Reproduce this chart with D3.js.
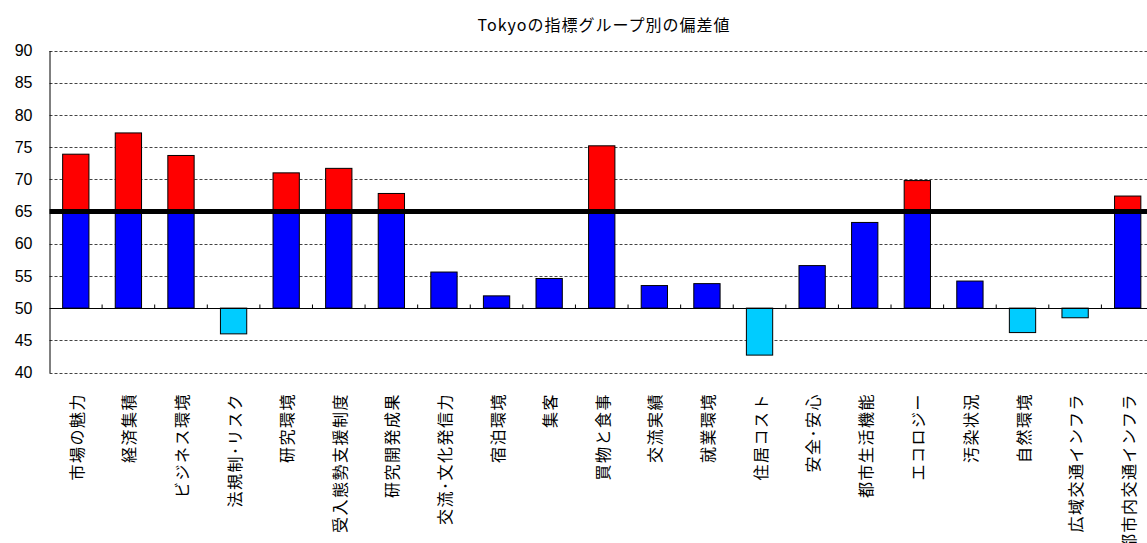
<!DOCTYPE html>
<html>
<head>
<meta charset="utf-8">
<script src="https://cdn.jsdelivr.net/npm/d3@7"></script>
<style>
  body { margin: 0; background: #fff; }
  svg { display: block; }
</style>
</head>
<body>
<div id="chart"></div>
<script>
// chart data
const title = "Tokyoの指標グループ別の偏差値";
const categories = ["市場の魅力", "経済集積", "ビジネス環境", "法規制･リスク", "研究環境", "受入態勢支援制度",
  "研究開発成果", "交流･文化発信力", "宿泊環境", "集客", "買物と食事", "交流実績", "就業環境", "住居コスト",
  "安全･安心", "都市生活機能", "エコロジー", "汚染状況", "自然環境", "広域交通インフラ", "都市内交通インフラ"];
const values = [73.9, 77.2, 73.7, 46.0, 71.0, 71.7, 67.8, 55.6, 51.9, 54.6, 75.2, 53.5, 53.8, 42.7,
  56.6, 63.3, 69.8, 54.2, 46.2, 48.5, 67.4];
const yTicks = [40, 45, 50, 55, 60, 65, 70, 75, 80, 85, 90];
const baseValue = 50;
const markValue = 65;

const width = 1147, height = 543;

const svg = d3.select("#chart").append("svg")
  .attr("width", width)
  .attr("height", height);

const x = d3.scaleBand()
  .domain(categories)
  .range([49.5, 1154])
  .paddingInner(0.5)
  .paddingOuter(0.25);

const y = d3.scaleLinear()
  .domain([40, 90])
  .range([372.5, 50.5]);

// title
svg.append("text")
  .attr("x", 604)
  .attr("y", 31)
  .attr("text-anchor", "middle")
  .style("font-family", "'Noto Sans CJK JP', sans-serif")
  .style("font-size", "16px")
  .style("letter-spacing", "1px")
  .text(title);

// dashed grid lines
svg.append("g").selectAll("line")
  .data(yTicks.filter(d => d !== baseValue && d !== markValue))
  .enter().append("line")
  .attr("x1", 49.5).attr("x2", width)
  .attr("y1", d => Math.round(y(d)) + 0.5)
  .attr("y2", d => Math.round(y(d)) + 0.5)
  .style("stroke", "#444")
  .style("stroke-width", 1)
  .style("stroke-dasharray", "3,2");

// y axis
const yAxis = svg.append("g")
  .attr("transform", "translate(49.5,0)")
  .call(d3.axisLeft(y).tickValues(yTicks).tickSize(0).tickPadding(17));
yAxis.select(".domain").style("stroke", "#000");
yAxis.selectAll("text")
  .style("font-family", "'Liberation Sans', Arial, sans-serif")
  .style("font-size", "16px")
  .style("fill", "#000");

// bars split into segments
const segments = [];
values.forEach((v, i) => {
  const c = categories[i];
  if (v >= baseValue) {
    segments.push({ c, lo: baseValue, hi: Math.min(v, markValue), color: "#0000FF" });
    if (v > markValue) segments.push({ c, lo: markValue, hi: v, color: "#FF0000" });
  } else {
    segments.push({ c, lo: v, hi: baseValue, color: "#00CCFF" });
  }
});

svg.append("g").selectAll("rect")
  .data(segments)
  .enter().append("rect")
  .attr("x", d => x(d.c))
  .attr("width", x.bandwidth())
  .attr("y", d => y(d.hi))
  .attr("height", d => y(d.lo) - y(d.hi))
  .style("fill", d => d.color)
  .style("stroke", "#000")
  .style("stroke-width", 1);

// category axis at 50
const y50 = Math.round(y(baseValue)) + 0.5;
svg.append("line")
  .attr("x1", 49.5).attr("x2", width)
  .attr("y1", y50).attr("y2", y50)
  .style("stroke", "#000");

svg.append("g").selectAll("line")
  .data(categories.slice(1))
  .enter().append("line")
  .attr("x1", d => x(d) - x.step() * x.paddingInner() / 2)
  .attr("x2", d => x(d) - x.step() * x.paddingInner() / 2)
  .attr("y1", y50).attr("y2", y50 - 4)
  .style("stroke", "#000");

// thick line at 65
svg.append("line")
  .attr("x1", 49.5).attr("x2", width)
  .attr("y1", y(markValue)).attr("y2", y(markValue))
  .style("stroke", "#000")
  .style("stroke-width", 5);

// rotated category labels
svg.append("g").selectAll("text")
  .data(categories)
  .enter().append("text")
  .attr("transform", d => `translate(${x(d) + x.bandwidth() / 2},393) rotate(-90)`)
  .attr("text-anchor", "end")
  .attr("dominant-baseline", "central")
  .style("font-family", "'Noto Sans CJK JP', sans-serif")
  .style("font-size", "16px")
  .style("letter-spacing", "1.5px")
  .text(d => d);
</script>
</body>
</html>
